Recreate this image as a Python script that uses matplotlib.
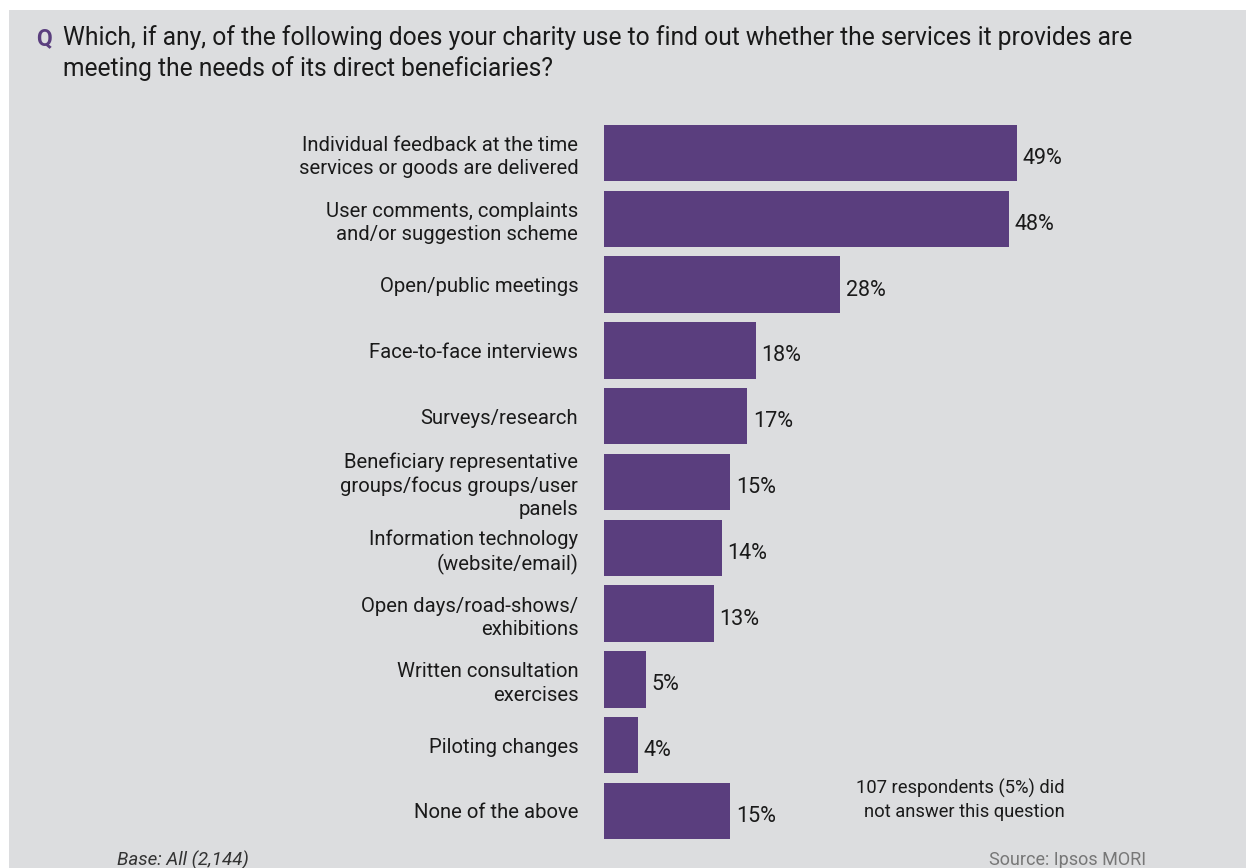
import numpy as np
import matplotlib as mpl
mpl.use('Agg')
from matplotlib import pyplot as plt
from matplotlib.patches import Rectangle

#------------------ data ----------------------
categories = ['Individual feedback at the time\nservices or goods are delivered',
              'User comments, complaints\nand/or suggestion scheme',
              'Open/public meetings',
              'Face-to-face interviews',
              'Surveys/research',
              'Beneficiary representative\ngroups/focus groups/user\npanels',
              'Information technology\n(website/email)',
              'Open days/road-shows/\nexhibitions',
              'Written consultation\nexercises',
              'Piloting changes',
              'None of the above']
values = [49, 48, 28, 18, 17, 15, 14, 13, 5, 4, 15]

#------------------ style ----------------------
W, H = 1246, 868
panel = '#dcdddf'
purple = '#5a3e7e'
txt = '#1a1a1a'
plt.rcParams['font.family'] = ['Roboto', 'DejaVu Sans']

fig = plt.figure(figsize=(W/100, H/100), dpi=100)
fig.patch.set_facecolor('white')
fig.patches.append(Rectangle((9/W, 0), 1 - 9/W, 1 - 10/H, transform=fig.transFigure,
                             facecolor=panel, edgecolor='none', zorder=-5))

# axes: bar origin at x=604px, 8.43 px per percent
ppu = 65.8
top_px, bot_px = 153 - ppu/2, 811 + ppu/2
ax = fig.add_axes([604/W, 1 - bot_px/H, 60*8.43/W, (bot_px - top_px)/H])
ax.set_facecolor('none')
y = np.arange(len(values))
ax.barh(y, values, height=0.86, color=purple, zorder=2)
ax.set_xlim(0, 60)
ax.set_ylim(len(values) - 0.5, -0.5)
for s in ax.spines.values():
    s.set_visible(False)
ax.set_xticks([])
ax.set_yticks(y)
ax.set_yticklabels(categories, fontsize=14.6, color=txt, linespacing=1.28)
ax.tick_params(axis='y', length=0, pad=18.5)

for yi, v in zip(y, values):
    ax.annotate('%d%%' % v, (v, yi), xytext=(4, -4), textcoords='offset points',
                ha='left', va='center', fontsize=15.5, color=txt)

# question header
fig.text(36/W, 1 - 39/H, 'Q', fontsize=16.5, fontweight='bold', color=purple, va='center')
fig.text(63/W, 1 - 53/H,
         'Which, if any, of the following does your charity use to find out whether the services it provides are\n'
         'meeting the needs of its direct beneficiaries?',
         fontsize=17.7, color=txt, va='center', linespacing=1.26)

# notes
fig.text(1065/W, 1 - 800/H, '107 respondents (5%) did\nnot answer this question',
         fontsize=13.2, color=txt, ha='right', va='center', multialignment='right', linespacing=1.37)
fig.text(117/W, 1 - 860/H, 'Base: All (2,144)', fontsize=13.5, style='italic', color='#333333',
         va='center')
fig.text(1146/W, 1 - 860/H, 'Source: Ipsos MORI', fontsize=13, color='#777777',
         ha='right', va='center')

plt.savefig('out.png', dpi=100, facecolor=fig.get_facecolor())
